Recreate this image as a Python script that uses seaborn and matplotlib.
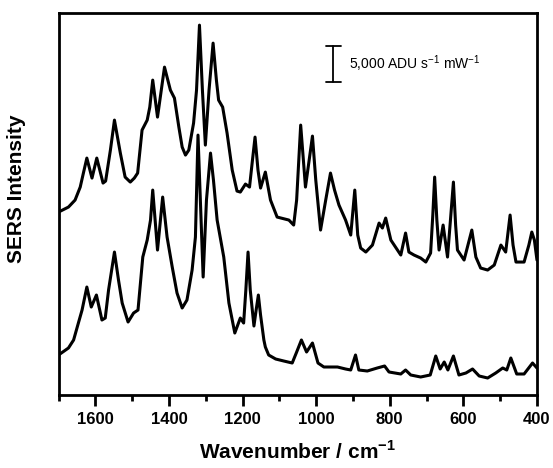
import matplotlib
matplotlib.use("Agg")
import matplotlib.pyplot as plt
import seaborn as sns
import pandas as pd

# ---- data (intensity in arbitrary units) ----
upper_wavenumber = [1700, 1673, 1655, 1641, 1633, 1623, 1609, 1596, 1579, 1572,
                    1559, 1548, 1532, 1519, 1505, 1494, 1485, 1473, 1459, 1452,
                    1444, 1431, 1412, 1396, 1385, 1373, 1364, 1355, 1346, 1333,
                    1325, 1317, 1309, 1301, 1291, 1280, 1271, 1265, 1254, 1242,
                    1228, 1215, 1206, 1192, 1181, 1173, 1166, 1158, 1151, 1138,
                    1124, 1106, 1074, 1061, 1053, 1042, 1029, 1010, 1001, 988,
                    974, 961, 950, 938, 920, 906, 895, 887, 879, 865,
                    847, 829, 820, 811, 797, 770, 757, 748, 734, 716,
                    702, 689, 683, 678, 672, 666, 655, 643, 634, 627,
                    621, 616, 598, 577, 566, 553, 534, 516, 498, 485,
                    473, 465, 457, 435, 422, 414, 407, 400]
upper_intensity = [183, 188, 195, 208, 221, 237, 217, 237, 212, 214,
                   245, 275, 242, 218, 213, 217, 222, 265, 275, 288,
                   315, 278, 328, 305, 297, 268, 248, 240, 245, 272,
                   305, 370, 305, 250, 305, 352, 315, 295, 288, 262,
                   225, 204, 203, 211, 208, 235, 258, 225, 207, 223,
                   195, 178, 175, 170, 195, 270, 208, 259, 215, 165,
                   195, 222, 205, 190, 175, 160, 205, 160, 147, 143,
                   150, 172, 167, 177, 155, 140, 162, 143, 140, 137,
                   133, 142, 180, 218, 175, 145, 170, 138, 180, 213,
                   170, 145, 135, 165, 138, 127, 125, 130, 150, 143,
                   180, 150, 133, 133, 150, 163, 155, 135]

lower_wavenumber = [1700, 1673, 1659, 1646, 1636, 1623, 1611, 1597, 1582, 1573,
                    1564, 1548, 1537, 1527, 1511, 1496, 1484, 1471, 1459, 1450,
                    1444, 1431, 1417, 1405, 1391, 1378, 1364, 1351, 1337, 1328,
                    1321, 1307, 1298, 1287, 1279, 1269, 1251, 1237, 1221, 1206,
                    1197, 1191, 1185, 1179, 1169, 1163, 1157, 1151, 1142, 1138,
                    1129, 1110, 1088, 1065, 1054, 1040, 1026, 1010, 995, 979,
                    942, 920, 906, 893, 884, 861, 834, 814, 802, 770,
                    757, 743, 716, 690, 675, 663, 652, 642, 627, 612,
                    593, 575, 557, 534, 512, 493, 482, 471, 455, 435,
                    412, 400]
lower_intensity = [40, 47, 55, 72, 85, 108, 88, 100, 75, 77,
                   105, 143, 115, 92, 73, 82, 85, 138, 155, 175,
                   205, 145, 198, 158, 128, 102, 87, 95, 125, 158,
                   260, 118, 195, 242, 215, 175, 138, 92, 62, 77,
                   72, 105, 143, 105, 69, 85, 100, 80, 55, 48,
                   40, 36, 34, 32, 42, 55, 43, 52, 32, 28,
                   28, 26, 25, 40, 25, 24, 27, 29, 23, 21,
                   25, 20, 18, 20, 39, 26, 33, 25, 39, 20,
                   22, 26, 19, 17, 22, 27, 25, 37, 21, 21,
                   32, 27]

x_ticks = [1600, 1400, 1200, 1000, 800, 600, 400]
scale_bar_label = "5,000 ADU s$^{-1}$ mW$^{-1}$"
scale_bar_value = 35.7          # 5,000 ADU s-1 mW-1 in plot units

# ---- build table ----
df = pd.concat([
    pd.DataFrame({"wavenumber": upper_wavenumber, "intensity": upper_intensity,
                  "spectrum": "upper"}),
    pd.DataFrame({"wavenumber": lower_wavenumber, "intensity": lower_intensity,
                  "spectrum": "lower"}),
])

sns.set_theme(style="ticks")
plt.rcParams["font.family"] = ["Liberation Sans", "DejaVu Sans"]
plt.rcParams["mathtext.fontset"] = "custom"
plt.rcParams["mathtext.rm"] = "Liberation Sans"
plt.rcParams["mathtext.bf"] = "Liberation Sans:bold"
plt.rcParams["text.color"] = "black"
plt.rcParams["axes.labelcolor"] = "black"
plt.rcParams["xtick.color"] = "black"

fig = plt.figure(figsize=(5.53, 4.68), dpi=100)
ax = fig.add_axes([0.1058, 0.156, 0.8652, 0.817])

sns.lineplot(data=df, x="wavenumber", y="intensity", hue="spectrum",
             units="spectrum", estimator=None,
             palette={"upper": "black", "lower": "black"},
             linewidth=2.2, legend=False, ax=ax, sort=True,
             solid_joinstyle="round", solid_capstyle="round")

ax.set_xlim(1700, 400)
ax.set_ylim(0, 382.5)
ax.set_xticks(x_ticks)
ax.set_xticks(range(1700, 399, -100), minor=True)
ax.set_yticks([])
for lab in ax.get_xticklabels():
    lab.set_fontweight("bold")
ax.tick_params(axis="x", which="major", direction="out", length=8, width=2,
               labelsize=12, pad=4, colors="black")
ax.tick_params(axis="x", which="minor", direction="out", length=4, width=2,
               colors="black")
for s in ax.spines.values():
    s.set_linewidth(2.0)
    s.set_color("black")
    s.set_visible(True)

ax.set_xlabel(r"Wavenumber / cm$^{\mathbf{-1}}$", fontsize=15,
              fontweight="bold", color="black")
ax.xaxis.set_label_coords(0.5, -0.118)
ax.set_ylabel("SERS Intensity", fontsize=15, fontweight="bold", color="black")
ax.yaxis.set_label_coords(-0.068, 0.54)

# scale bar
bar_x, bar_y0, cap = 953, 313.3, 20
ax.plot([bar_x, bar_x], [bar_y0, bar_y0 + scale_bar_value], color="black", lw=1.3)
ax.plot([bar_x - cap, bar_x + cap], [bar_y0, bar_y0], color="black", lw=1.3)
ax.plot([bar_x - cap, bar_x + cap], [bar_y0 + scale_bar_value] * 2,
        color="black", lw=1.3)
ax.text(912, bar_y0 + scale_bar_value / 2, scale_bar_label, fontsize=10,
        va="center", ha="left", color="black")

fig.savefig("out.png", dpi=100)
